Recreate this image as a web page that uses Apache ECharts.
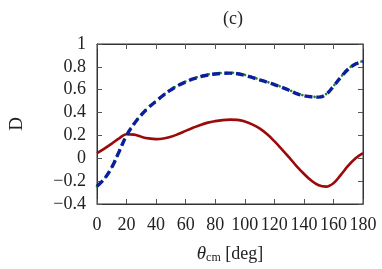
<!DOCTYPE html>
<html>
<head>
<meta charset="utf-8">
<script src="https://cdn.jsdelivr.net/npm/echarts@6/dist/echarts.min.js"></script>
<style>
html,body{margin:0;padding:0;background:#fff;}
#c{width:382px;height:269px;}
</style>
</head>
<body>
<div id="c"></div>
<script>
var angles = [0,5,10,15,20,25,30,35,40,45,50,55,60,65,70,75,80,85,90,95,100,105,110,115,120,125,130,135,140,145,150,155,160,165,170,175,180];
var redD = [0.045,0.085,0.128,0.175,0.21,0.207,0.188,0.174,0.168,0.173,0.188,0.212,0.24,0.267,0.292,0.312,0.325,0.334,0.338,0.336,0.322,0.297,0.262,0.212,0.15,0.08,0.008,-0.068,-0.135,-0.195,-0.236,-0.248,-0.218,-0.145,-0.065,0.0,0.045];
var blueD = [-0.245,-0.18,-0.08,0.06,0.2,0.3,0.38,0.445,0.5,0.552,0.598,0.638,0.668,0.694,0.714,0.729,0.738,0.743,0.745,0.74,0.726,0.707,0.687,0.666,0.645,0.621,0.595,0.566,0.548,0.538,0.535,0.56,0.63,0.71,0.78,0.825,0.847];
var greenD = [-0.245,-0.178,-0.078,0.062,0.202,0.302,0.383,0.448,0.503,0.556,0.602,0.642,0.672,0.698,0.718,0.733,0.742,0.747,0.749,0.744,0.73,0.711,0.69,0.669,0.648,0.624,0.598,0.569,0.55,0.54,0.537,0.562,0.632,0.712,0.782,0.828,0.85];
var xTicks = [0,20,40,60,80,100,120,140,160,180];
var yTicks = [-0.4,-0.2,0,0.2,0.4,0.6,0.8,1];

function pairs(ys){ return angles.map(function(a,i){ return [a, ys[i]]; }); }
var font = 'Liberation Serif';
var axisCol = '#333';
var txtCol = '#222';
function fmtY(v){ var s = String(parseFloat(v.toFixed(1))); return s.replace('-', '\u2212'); }
function axisBase(){
  return {
    axisLine:{ show:true, onZero:false, lineStyle:{ color:axisCol, width:1 } },
    axisTick:{ show:true, inside:true, length:5, lineStyle:{ color:'#555', width:1 } },
    splitLine:{ show:false }
  };
}

var chart = echarts.init(document.getElementById('c'), null, {renderer:'canvas'});
chart.setOption({
  animation:false,
  backgroundColor:'#fff',
  title:{ text:'(c)', left:228, top:5, textAlign:'center',
    textStyle:{ fontFamily:font, fontSize:18, fontWeight:'normal', color:txtCol } },
  grid:{ left:92.5, right:19, top:44, bottom:65, show:true, borderColor:axisCol, borderWidth:1, backgroundColor:'transparent' },
  xAxis:[Object.assign(axisBase(), {
    type:'value', min:0, max:180, interval:20, position:'bottom',
    axisLabel:{ fontFamily:font, fontSize:18, color:txtCol, margin:12, customValues: xTicks },
    name:'{i|θ}{s|cm} [deg]', nameLocation:'middle', nameGap:40,
    nameTextStyle:{ fontFamily:font, fontSize:18, color:txtCol,
      rich:{ i:{ fontFamily:font, fontStyle:'italic', fontSize:19, color:txtCol },
             s:{ fontFamily:font, fontSize:12, color:txtCol, padding:[8,0,0,0] } } }
  }), Object.assign(axisBase(), {
    type:'value', min:0, max:180, interval:20, position:'top', show:true,
    axisLabel:{ show:false }
  })],
  yAxis:[Object.assign(axisBase(), {
    type:'value', min:-0.4, max:1, interval:0.2, position:'left',
    axisLabel:{ fontFamily:font, fontSize:18, color:txtCol, margin:11, formatter: fmtY, customValues: yTicks },
    name:'D', nameLocation:'middle', nameGap:70, nameRotate:90,
    nameTextStyle:{ fontFamily:font, fontSize:19, color:txtCol }
  }), Object.assign(axisBase(), {
    type:'value', min:-0.4, max:1, interval:0.2, position:'right', show:true,
    axisLabel:{ show:false }
  })],
  series:[
    { type:'line', data:pairs(redD), smooth:0.4, showSymbol:false,
      lineStyle:{ color:'#9b0a0a', width:2.6 }, z:3 },
    { type:'line', data:pairs(greenD), smooth:0.4, showSymbol:false,
      lineStyle:{ color:'#1e8a1e', width:2.6, type:[0.1,6], cap:'round' }, z:2 },
    { type:'line', data:pairs(blueD), smooth:0.4, showSymbol:false,
      lineStyle:{ color:'#0b1f9c', width:3.4, type:[8,4] }, z:4 },
    { type:'line', xAxisIndex:1, yAxisIndex:1, data:pairs(redD), showSymbol:false, silent:true,
      lineStyle:{ opacity:0, width:0 } }
  ]
});
</script>
</body>
</html>
